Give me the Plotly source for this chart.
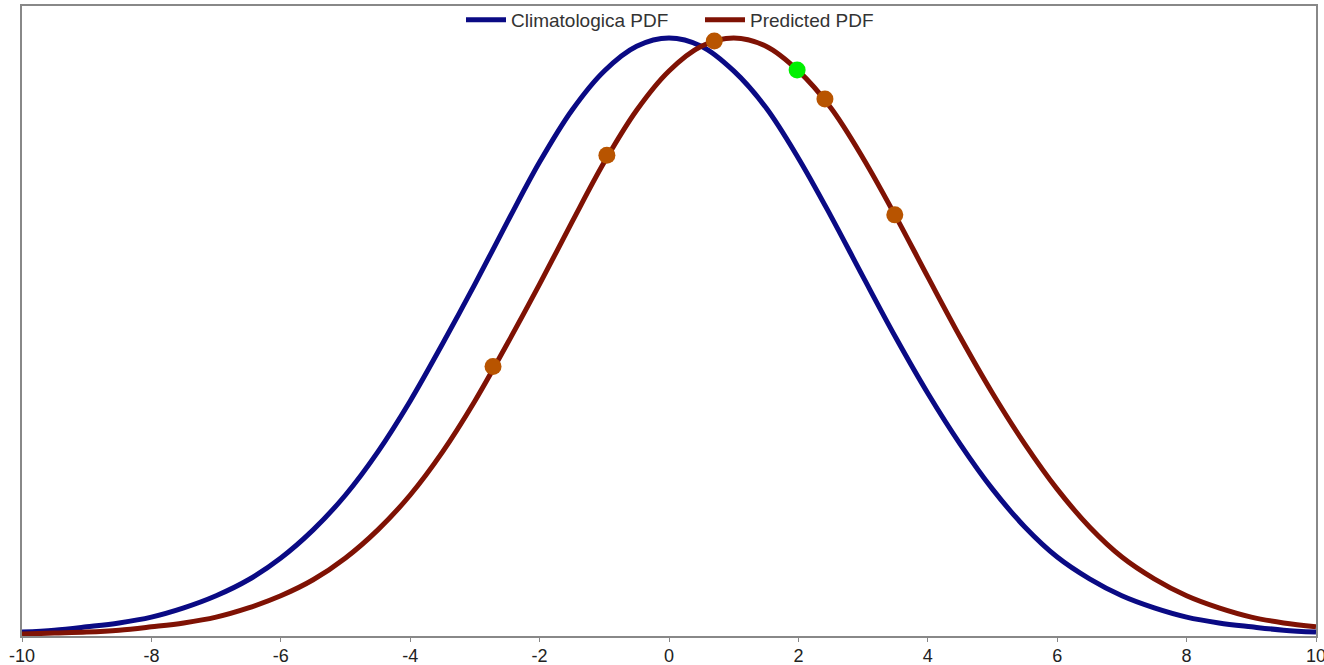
import plotly.graph_objects as go

# x grid (read every 0.5 unit)
x_vals = [-10, -9.5, -9, -8.5, -8, -7.5, -7, -6.5, -6, -5.5, -5, -4.5, -4, -3.5, -3,
          -2.5, -2, -1.5, -1, -0.5, 0, 0.5, 1, 1.5, 2, 2.5, 3, 3.5, 4, 4.5, 5,
          5.5, 6, 6.5, 7, 7.5, 8, 8.5, 9, 9.5, 10]

# Climatological PDF
y_clim = [0.0008, 0.0012, 0.0019, 0.0027, 0.0039, 0.0058, 0.0083, 0.0116, 0.0161,
          0.0219, 0.0291, 0.0380, 0.0485, 0.0603, 0.0726, 0.0854, 0.0978, 0.1085,
          0.1166, 0.1217, 0.1234, 0.1217, 0.1166, 0.1090, 0.0986, 0.0867, 0.0741,
          0.0617, 0.0501, 0.0396, 0.0303, 0.0225, 0.0163, 0.0118, 0.0083, 0.0058,
          0.0039, 0.0027, 0.0019, 0.0012, 0.0008]

# Predicted PDF
y_pred = [0.0004, 0.0006, 0.0008, 0.0012, 0.0019, 0.0027, 0.0039, 0.0058, 0.0083,
          0.0116, 0.0161, 0.0219, 0.0291, 0.0380, 0.0485, 0.0603, 0.0726, 0.0854,
          0.0978, 0.1085, 0.1166, 0.1217, 0.1234, 0.1217, 0.1166, 0.1090, 0.0986,
          0.0867, 0.0741, 0.0617, 0.0501, 0.0396, 0.0303, 0.0225, 0.0163, 0.0118,
          0.0083, 0.0058, 0.0039, 0.0027, 0.0019]

# Sample points on predicted PDF
x_pts = [-2.72, -0.96, 0.70, 2.41, 3.49]
y_pts = [0.0556, 0.0992, 0.1228, 0.1108, 0.0869]

# Highlighted point
x_hl = [1.98]
y_hl = [0.1168]

tick_vals = [-10, -8, -6, -4, -2, 0, 2, 4, 6, 8, 10]
tick_text = ["-10", "-8", "-6", "-4", "-2", "0", "2", "4", "6", "8", "10"]

fig = go.Figure()
fig.add_trace(go.Scatter(x=x_vals, y=y_clim, mode="lines", name="Climatologica PDF",
                         line=dict(color="#0a0a84", width=5, shape="spline", smoothing=1)))
fig.add_trace(go.Scatter(x=x_vals, y=y_pred, mode="lines", name="Predicted PDF",
                         line=dict(color="#7f1204", width=5, shape="spline", smoothing=1)))
fig.add_trace(go.Scatter(x=x_pts, y=y_pts, mode="markers", showlegend=False,
                         marker=dict(color="#b85400", size=17, line=dict(width=0))))
fig.add_trace(go.Scatter(x=x_hl, y=y_hl, mode="markers", showlegend=False,
                         marker=dict(color="#00f000", size=17, line=dict(width=0))))

fig.update_layout(
    width=1324, height=665,
    margin=dict(l=22, r=8, t=6, b=29, autoexpand=False),
    paper_bgcolor="white", plot_bgcolor="white",
    font=dict(family="Liberation Sans, Arial, sans-serif", color="#222"),
    showlegend=True,
    legend=dict(orientation="h", x=439 / 1294, xanchor="left", y=0.978, yanchor="middle",
                font=dict(size=19, color="#333"), bgcolor="rgba(0,0,0,0)",
                itemwidth=40, entrywidth=184),
)
fig.update_xaxes(range=[-10, 10], tickvals=tick_vals, ticktext=tick_text,
                 ticks="outside", ticklen=4, tickcolor="#888",
                 tickfont=dict(size=18, color="#222"), ticklabeloverflow="allow",
                 automargin=False, ticklabelstandoff=-2,
                 showgrid=False, zeroline=False, showline=True, linecolor="#888",
                 linewidth=2, mirror=True)
fig.update_yaxes(range=[0, 0.13], showticklabels=False, ticks="", showgrid=False,
                 automargin=False,
                 zeroline=False, showline=True, linecolor="#888", linewidth=2, mirror=True)

fig.write_html("out.html", config={"displayModeBar": False},
               post_script="document.body.style.margin='0px';")
